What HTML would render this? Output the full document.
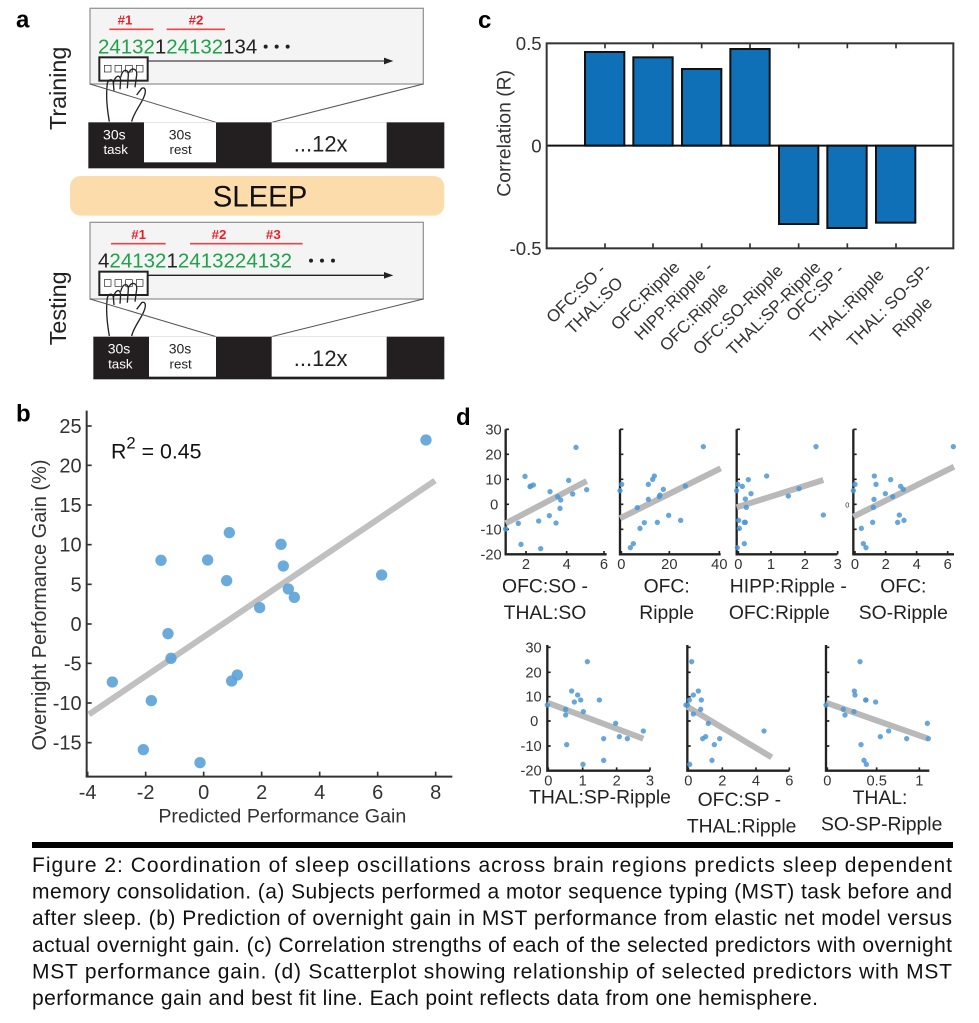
<!DOCTYPE html>
<html><head><meta charset="utf-8"><style>
html,body{margin:0;padding:0;background:#fff;}
svg{display:block;font-family:"Liberation Sans",sans-serif;}
</style></head><body>
<svg width="979" height="1023" viewBox="0 0 979 1023" xmlns="http://www.w3.org/2000/svg">
<rect width="979" height="1023" fill="#fff"/>

<g transform="scale(0.33333)">
  <text x="48" y="82" font-size="72" font-weight="bold">a</text>
  <text transform="translate(198,265) rotate(-90)" text-anchor="middle" font-size="70" fill="#222">Training</text>
  <rect x="270" y="25" width="1000" height="227" fill="#f4f4f4" stroke="#999" stroke-width="4"/>
  <text x="375" y="73" text-anchor="middle" font-size="40" font-weight="bold" fill="#e8202a">#1</text>
  <line x1="328" y1="88" x2="460" y2="88" stroke="#ee4444" stroke-width="5"/>
  <text x="588" y="73" text-anchor="middle" font-size="40" font-weight="bold" fill="#e8202a">#2</text>
  <line x1="500" y1="88" x2="675" y2="88" stroke="#ee4444" stroke-width="5"/>
  <text x="294" y="160" font-size="61" textLength="478" lengthAdjust="spacingAndGlyphs"><tspan fill="#1fa24a">24132</tspan><tspan fill="#222">1</tspan><tspan fill="#1fa24a">24132</tspan><tspan fill="#222">134</tspan></text>
  <circle cx="797" cy="140" r="6" fill="#222"/><circle cx="830" cy="140" r="6" fill="#222"/><circle cx="863" cy="140" r="6" fill="#222"/>
  <line x1="443" y1="183" x2="1160" y2="183" stroke="#444" stroke-width="4"/>
  <polygon points="1180,183 1152,173 1152,193" fill="#222"/>
  <rect x="298" y="172" width="145" height="70" fill="#fff" stroke="#222" stroke-width="6"/>
  <rect x="313" y="196" width="20" height="20" fill="#fff" stroke="#222" stroke-width="2"/>
  <rect x="345" y="196" width="20" height="20" fill="#fff" stroke="#222" stroke-width="2"/>
  <rect x="377" y="196" width="20" height="20" fill="#fff" stroke="#222" stroke-width="2"/>
  <rect x="409" y="196" width="20" height="20" fill="#fff" stroke="#222" stroke-width="2"/>
  <path d="M328,365 C320,320 318,280 322,250 M322,250 C326,236 340,236 340,250 L342,272 M340,252 C345,225 360,222 362,240 L360,268 M362,232 C368,205 385,205 385,225 L382,265 M385,220 C395,200 412,205 410,225 L405,262 M395,365 C400,340 425,310 432,290 C440,270 435,260 425,265 L410,285" fill="none" stroke="#222" stroke-width="4"/>
  <line x1="270" y1="252" x2="648" y2="367" stroke="#555" stroke-width="3"/>
  <line x1="1270" y1="252" x2="815" y2="367" stroke="#555" stroke-width="3"/>
  <rect x="265" y="367" width="1068" height="138" fill="#231f20"/>
  <rect x="432" y="367" width="216" height="120" fill="#fff"/>
  <rect x="815" y="367" width="345" height="120" fill="#fff"/>
  <text x="343" y="418" text-anchor="middle" font-size="42" fill="#fff">30s</text>
  <text x="347" y="462" text-anchor="middle" font-size="40" fill="#fff">task</text>
  <text x="540" y="418" text-anchor="middle" font-size="42" fill="#222">30s</text>
  <text x="542" y="462" text-anchor="middle" font-size="40" fill="#222">rest</text>
  <text x="962" y="455" text-anchor="middle" font-size="66" fill="#222">...12x</text>
  <rect x="210" y="528" width="1123" height="119" rx="32" fill="#fcdcaa"/>
  <text x="780" y="620" text-anchor="middle" font-size="88" fill="#111">SLEEP</text>
  <text transform="translate(198,925) rotate(-90)" text-anchor="middle" font-size="70" fill="#222">Testing</text>
  <rect x="270" y="667" width="1000" height="230" fill="#f4f4f4" stroke="#999" stroke-width="4"/>
  <text x="416" y="717" text-anchor="middle" font-size="40" font-weight="bold" fill="#e8202a">#1</text>
  <line x1="333" y1="731" x2="497" y2="731" stroke="#ee4444" stroke-width="5"/>
  <text x="657" y="717" text-anchor="middle" font-size="40" font-weight="bold" fill="#e8202a">#2</text>
  <text x="820" y="717" text-anchor="middle" font-size="40" font-weight="bold" fill="#e8202a">#3</text>
  <line x1="570" y1="731" x2="908" y2="731" stroke="#ee4444" stroke-width="5"/>
  <text x="294" y="803" font-size="61" textLength="582" lengthAdjust="spacingAndGlyphs"><tspan fill="#222">4</tspan><tspan fill="#1fa24a">24132</tspan><tspan fill="#222">1</tspan><tspan fill="#1fa24a">2413224132</tspan></text>
  <circle cx="933" cy="782" r="6" fill="#222"/><circle cx="966" cy="782" r="6" fill="#222"/><circle cx="999" cy="782" r="6" fill="#222"/>
  <line x1="443" y1="826" x2="1160" y2="826" stroke="#222" stroke-width="4"/>
  <polygon points="1180,826 1152,816 1152,836" fill="#222"/>
  <rect x="298" y="815" width="145" height="70" fill="#fff" stroke="#222" stroke-width="6"/>
  <rect x="313" y="839" width="20" height="20" fill="#fff" stroke="#222" stroke-width="2"/>
  <rect x="345" y="839" width="20" height="20" fill="#fff" stroke="#222" stroke-width="2"/>
  <rect x="377" y="839" width="20" height="20" fill="#fff" stroke="#222" stroke-width="2"/>
  <rect x="409" y="839" width="20" height="20" fill="#fff" stroke="#222" stroke-width="2"/>
  <path d="M328,1008 C320,963 318,923 322,893 M322,893 C326,879 340,879 340,893 L342,915 M340,895 C345,868 360,865 362,883 L360,911 M362,875 C368,848 385,848 385,868 L382,908 M385,863 C395,843 412,848 410,868 L405,905 M395,1008 C400,983 425,953 432,933 C440,913 435,903 425,908 L410,928" fill="none" stroke="#222" stroke-width="4"/>
  <line x1="270" y1="897" x2="648" y2="1010" stroke="#555" stroke-width="3"/>
  <line x1="1270" y1="897" x2="815" y2="1010" stroke="#555" stroke-width="3"/>
  <rect x="280" y="1010" width="1053" height="128" fill="#231f20"/>
  <rect x="447" y="1010" width="201" height="120" fill="#fff"/>
  <rect x="815" y="1010" width="345" height="120" fill="#fff"/>
  <text x="357" y="1060" text-anchor="middle" font-size="42" fill="#fff">30s</text>
  <text x="361" y="1105" text-anchor="middle" font-size="40" fill="#fff">task</text>
  <text x="540" y="1060" text-anchor="middle" font-size="42" fill="#222">30s</text>
  <text x="542" y="1105" text-anchor="middle" font-size="40" fill="#222">rest</text>
  <text x="962" y="1098" text-anchor="middle" font-size="66" fill="#222">...12x</text>
</g>

<text x="478" y="28" font-size="24" font-weight="bold">c</text>
<g transform="translate(470,0) scale(0.33333)">
  <rect x="345" y="156" width="118" height="281" fill="#0f70b7" stroke="#111" stroke-width="6"/>
  <rect x="490" y="172" width="118" height="265" fill="#0f70b7" stroke="#111" stroke-width="6"/>
  <rect x="636" y="207" width="118" height="230" fill="#0f70b7" stroke="#111" stroke-width="6"/>
  <rect x="781" y="147" width="118" height="290" fill="#0f70b7" stroke="#111" stroke-width="6"/>
  <rect x="927" y="437" width="118" height="235" fill="#0f70b7" stroke="#111" stroke-width="6"/>
  <rect x="1072" y="437" width="118" height="247" fill="#0f70b7" stroke="#111" stroke-width="6"/>
  <rect x="1218" y="437" width="118" height="231" fill="#0f70b7" stroke="#111" stroke-width="6"/>
  <line x1="230" y1="437" x2="1450" y2="437" stroke="#111" stroke-width="6"/>
  <rect x="230" y="130" width="1220" height="615" fill="none" stroke="#333" stroke-width="6"/>
  <g stroke="#333" stroke-width="5">
    <line x1="405" y1="745" x2="405" y2="730"/><line x1="549" y1="745" x2="549" y2="730"/><line x1="695" y1="745" x2="695" y2="730"/><line x1="840" y1="745" x2="840" y2="730"/><line x1="986" y1="745" x2="986" y2="730"/><line x1="1132" y1="745" x2="1132" y2="730"/><line x1="1278" y1="745" x2="1278" y2="730"/>
    <line x1="405" y1="130" x2="405" y2="145"/><line x1="549" y1="130" x2="549" y2="145"/><line x1="695" y1="130" x2="695" y2="145"/><line x1="840" y1="130" x2="840" y2="145"/><line x1="986" y1="130" x2="986" y2="145"/><line x1="1132" y1="130" x2="1132" y2="145"/><line x1="1278" y1="130" x2="1278" y2="145"/>
  </g>
  <g font-size="56" fill="#333" text-anchor="end">
    <text x="215" y="150">0.5</text>
    <text x="215" y="457">0</text>
    <text x="215" y="765">-0.5</text>
  </g>
  <text transform="translate(122,400) rotate(-90)" text-anchor="middle" font-size="58" fill="#333">Correlation (R)</text>
  <g font-size="51" fill="#333" text-anchor="end">
    <text transform="translate(410,812) rotate(-45)">OFC:SO -</text>
    <text transform="translate(462,852) rotate(-45)">THAL:SO</text>
    <text transform="translate(632,805) rotate(-45)">OFC:Ripple</text>
    <text transform="translate(732,805) rotate(-45)">HIPP:Ripple -</text>
    <text transform="translate(778,868) rotate(-45)">OFC:Ripple</text>
    <text transform="translate(942,815) rotate(-45)">OFC:SO-Ripple</text>
    <text transform="translate(1055,805) rotate(-45)">THAL:SP-Ripple</text>
    <text transform="translate(1125,812) rotate(-45)">OFC:SP -</text>
    <text transform="translate(1245,828) rotate(-45)">THAL:Ripple</text>
    <text transform="translate(1388,808) rotate(-45)">THAL: SO-SP-</text>
    <text transform="translate(1390,912) rotate(-45)">Ripple</text>
  </g>
</g>

<g transform="translate(0,390) scale(0.33333)">
  <text x="48" y="95" font-size="72" font-weight="bold">b</text>
  <line x1="260" y1="62" x2="260" y2="1160" stroke="#333" stroke-width="6"/>
  <line x1="257" y1="1160" x2="1357" y2="1160" stroke="#333" stroke-width="6"/>
  <g stroke="#333" stroke-width="5">
    <line x1="260" y1="108" x2="275" y2="108"/><line x1="260" y1="226" x2="275" y2="226"/><line x1="260" y1="345" x2="275" y2="345"/><line x1="260" y1="464" x2="275" y2="464"/><line x1="260" y1="583" x2="275" y2="583"/><line x1="260" y1="702" x2="275" y2="702"/><line x1="260" y1="820" x2="275" y2="820"/><line x1="260" y1="939" x2="275" y2="939"/><line x1="260" y1="1058" x2="275" y2="1058"/>
    <line x1="263" y1="1160" x2="263" y2="1145"/><line x1="437" y1="1160" x2="437" y2="1145"/><line x1="611" y1="1160" x2="611" y2="1145"/><line x1="785" y1="1160" x2="785" y2="1145"/><line x1="959" y1="1160" x2="959" y2="1145"/><line x1="1133" y1="1160" x2="1133" y2="1145"/><line x1="1307" y1="1160" x2="1307" y2="1145"/>
  </g>
  <g font-size="60" fill="#333" text-anchor="end">
    <text x="245" y="129">25</text><text x="245" y="247">20</text><text x="245" y="366">15</text><text x="245" y="485">10</text><text x="245" y="604">5</text><text x="245" y="723">0</text><text x="245" y="841">-5</text><text x="245" y="960">-10</text><text x="245" y="1079">-15</text>
  </g>
  <g font-size="60" fill="#333" text-anchor="middle">
    <text x="263" y="1227">-4</text><text x="437" y="1227">-2</text><text x="611" y="1227">0</text><text x="785" y="1227">2</text><text x="959" y="1227">4</text><text x="1133" y="1227">6</text><text x="1307" y="1227">8</text>
  </g>
  <text x="847" y="1297" text-anchor="middle" font-size="59" fill="#333">Predicted Performance Gain</text>
  <text transform="translate(138,645) rotate(-90)" text-anchor="middle" font-size="60" fill="#333">Overnight Performance Gain (%)</text>
  <text x="333" y="205" font-size="64" fill="#111">R<tspan dy="-30" font-size="50">2</tspan><tspan dy="30"> = 0.45</tspan></text>
  <line x1="267" y1="973" x2="1305" y2="272" stroke="#c0c0c0" stroke-width="18"/>
  <g fill="#5aa2d8" fill-opacity="0.9">
    <circle cx="1278" cy="150" r="17"/><circle cx="688" cy="428" r="17"/><circle cx="843" cy="463" r="17"/><circle cx="483" cy="511" r="17"/><circle cx="623" cy="510" r="17"/><circle cx="850" cy="528" r="17"/><circle cx="680" cy="572" r="17"/><circle cx="1145" cy="555" r="17"/><circle cx="865" cy="597" r="17"/><circle cx="883" cy="622" r="17"/><circle cx="779" cy="653" r="17"/><circle cx="504" cy="731" r="17"/><circle cx="513" cy="805" r="17"/><circle cx="337" cy="876" r="17"/><circle cx="712" cy="855" r="17"/><circle cx="695" cy="873" r="17"/><circle cx="454" cy="932" r="17"/><circle cx="430" cy="1079" r="17"/><circle cx="600" cy="1118" r="17"/>
  </g>
</g>

<text x="456" y="425" font-size="24" font-weight="bold">d</text>
<g transform="translate(470,400) scale(0.33333)" fill="#333">
  <g stroke="#222" stroke-width="7" fill="none">
    <path d="M107,88 V463 H410"/><path d="M450,88 V463 H752"/><path d="M800,88 V463 H1102"/><path d="M1150,88 V463 H1452"/>
    <path d="M232,735 V1112 H540"/><path d="M652,735 V1112 H958"/><path d="M1068,735 V1112 H1378"/>
  </g>
  <g stroke="#222" stroke-width="5">
    <path d="M107,88h10M107,163h10M107,238h10M107,313h10M107,388h10M450,88h10M450,163h10M450,238h10M450,313h10M450,388h10M800,88h10M800,163h10M800,238h10M800,313h10M800,388h10M1150,88h10M1150,163h10M1150,238h10M1150,313h10M1150,388h10"/>
    <path d="M168,463v-10M290,463v-10M402,463v-10M454,463v-10M598,463v-10M748,463v-10M805,463v-10M903,463v-10M1005,463v-10M1103,463v-10M1155,463v-10M1247,463v-10M1340,463v-10M1433,463v-10"/>
    <path d="M232,742h10M232,817h10M232,890h10M232,963h10M232,1038h10M652,742h10M652,817h10M652,890h10M652,963h10M652,1038h10M1068,742h10M1068,817h10M1068,890h10M1068,963h10M1068,1038h10"/>
    <path d="M235,1112v-10M338,1112v-10M440,1112v-10M540,1112v-10M655,1112v-10M757,1112v-10M858,1112v-10M958,1112v-10M1072,1112v-10M1220,1112v-10M1348,1112v-10"/>
  </g>
  <g font-size="44" text-anchor="end">
    <text x="95" y="103">30</text><text x="95" y="178">20</text><text x="95" y="253">10</text><text x="85" y="328">0</text><text x="95" y="403">-10</text><text x="95" y="478">-20</text>
    <text x="215" y="757">30</text><text x="215" y="832">20</text><text x="215" y="905">10</text><text x="205" y="978">0</text><text x="215" y="1053">-10</text><text x="215" y="1127">-20</text>
  </g>
  <text x="1132" y="323" font-size="22" text-anchor="middle">0</text>
  <g font-size="44" text-anchor="middle">
    <text x="168" y="507">2</text><text x="290" y="507">4</text><text x="402" y="507">6</text>
    <text x="454" y="507">0</text><text x="598" y="507">20</text><text x="748" y="507">40</text>
    <text x="805" y="507">0</text><text x="903" y="507">1</text><text x="1005" y="507">2</text><text x="1103" y="507">3</text>
    <text x="1155" y="507">0</text><text x="1247" y="507">2</text><text x="1340" y="507">4</text><text x="1433" y="507">6</text>
    <text x="235" y="1156">0</text><text x="338" y="1156">1</text><text x="440" y="1156">2</text><text x="540" y="1156">3</text>
    <text x="655" y="1156">0</text><text x="757" y="1156">2</text><text x="858" y="1156">4</text><text x="958" y="1156">6</text>
    <text x="1072" y="1156">0</text><text x="1220" y="1156">0.5</text><text x="1348" y="1156">1</text>
  </g>
  <g font-size="58" text-anchor="middle" fill="#222">
    <text x="225" y="578">OFC:SO -</text><text x="225" y="657">THAL:SO</text>
    <text x="590" y="578">OFC:</text><text x="590" y="657">Ripple</text>
    <text x="955" y="578">HIPP:Ripple -</text><text x="928" y="657">OFC:Ripple</text>
    <text x="1300" y="578">OFC:</text><text x="1300" y="657">SO-Ripple</text>
    <text x="390" y="1210">THAL:SP-Ripple</text>
    <text x="808" y="1218">OFC:SP -</text><text x="815" y="1297">THAL:Ripple</text>
    <text x="1230" y="1212">THAL:</text><text x="1235" y="1291">SO-SP-Ripple</text>
  </g>
  <g stroke="#b9b9b9" stroke-width="18">
    <line x1="107" y1="370" x2="350" y2="243"/><line x1="450" y1="355" x2="752" y2="205"/><line x1="800" y1="322" x2="1060" y2="240"/><line x1="1150" y1="350" x2="1452" y2="200"/>
    <line x1="232" y1="908" x2="520" y2="1016"/><line x1="652" y1="920" x2="905" y2="1072"/><line x1="1068" y1="908" x2="1375" y2="1016"/>
  </g>
  <g fill="#4b97d3" fill-opacity="0.85">
    <circle cx="318" cy="142" r="8"/><circle cx="165" cy="229" r="8"/><circle cx="182" cy="258" r="8"/><circle cx="190" cy="255" r="8"/><circle cx="180" cy="260" r="8"/><circle cx="296" cy="241" r="8"/><circle cx="240" cy="275" r="8"/><circle cx="350" cy="269" r="8"/><circle cx="308" cy="282" r="8"/><circle cx="263" cy="290" r="8"/><circle cx="272" cy="300" r="8"/><circle cx="270" cy="325" r="8"/><circle cx="238" cy="347" r="8"/><circle cx="206" cy="363" r="8"/><circle cx="258" cy="369" r="8"/><circle cx="145" cy="370" r="8"/><circle cx="107" cy="387" r="8"/><circle cx="153" cy="433" r="8"/><circle cx="212" cy="446" r="8"/>
    <circle cx="700" cy="140" r="8"/><circle cx="553" cy="228" r="8"/><circle cx="548" cy="238" r="8"/><circle cx="535" cy="253" r="8"/><circle cx="455" cy="253" r="8"/><circle cx="450" cy="272" r="8"/><circle cx="580" cy="268" r="8"/><circle cx="570" cy="285" r="8"/><circle cx="568" cy="290" r="8"/><circle cx="535" cy="298" r="8"/><circle cx="502" cy="323" r="8"/><circle cx="596" cy="346" r="8"/><circle cx="632" cy="361" r="8"/><circle cx="562" cy="367" r="8"/><circle cx="523" cy="368" r="8"/><circle cx="510" cy="385" r="8"/><circle cx="490" cy="431" r="8"/><circle cx="481" cy="443" r="8"/><circle cx="646" cy="258" r="8"/>
    <circle cx="1038" cy="140" r="8"/><circle cx="890" cy="228" r="8"/><circle cx="835" cy="239" r="8"/><circle cx="803" cy="253" r="8"/><circle cx="817" cy="259" r="8"/><circle cx="800" cy="272" r="8"/><circle cx="843" cy="281" r="8"/><circle cx="987" cy="266" r="8"/><circle cx="955" cy="288" r="8"/><circle cx="826" cy="297" r="8"/><circle cx="829" cy="322" r="8"/><circle cx="1060" cy="345" r="8"/><circle cx="806" cy="361" r="8"/><circle cx="826" cy="367" r="8"/><circle cx="823" cy="367" r="8"/><circle cx="808" cy="385" r="8"/><circle cx="823" cy="431" r="8"/><circle cx="802" cy="443" r="8"/>
    <circle cx="1450" cy="140" r="8"/><circle cx="1213" cy="228" r="8"/><circle cx="1262" cy="239" r="8"/><circle cx="1218" cy="253" r="8"/><circle cx="1155" cy="253" r="8"/><circle cx="1150" cy="272" r="8"/><circle cx="1292" cy="259" r="8"/><circle cx="1300" cy="268" r="8"/><circle cx="1246" cy="281" r="8"/><circle cx="1268" cy="290" r="8"/><circle cx="1212" cy="298" r="8"/><circle cx="1210" cy="322" r="8"/><circle cx="1288" cy="345" r="8"/><circle cx="1302" cy="361" r="8"/><circle cx="1283" cy="367" r="8"/><circle cx="1208" cy="367" r="8"/><circle cx="1174" cy="385" r="8"/><circle cx="1180" cy="431" r="8"/><circle cx="1188" cy="443" r="8"/>
    <circle cx="352" cy="785" r="8"/><circle cx="305" cy="873" r="8"/><circle cx="323" cy="885" r="8"/><circle cx="313" cy="906" r="8"/><circle cx="332" cy="900" r="8"/><circle cx="388" cy="900" r="8"/><circle cx="232" cy="915" r="8"/><circle cx="287" cy="928" r="8"/><circle cx="340" cy="935" r="8"/><circle cx="287" cy="945" r="8"/><circle cx="437" cy="970" r="8"/><circle cx="448" cy="1010" r="8"/><circle cx="520" cy="993" r="8"/><circle cx="472" cy="1016" r="8"/><circle cx="401" cy="1016" r="8"/><circle cx="290" cy="1034" r="8"/><circle cx="401" cy="1081" r="8"/><circle cx="339" cy="1093" r="8"/>
    <circle cx="665" cy="785" r="8"/><circle cx="685" cy="873" r="8"/><circle cx="670" cy="885" r="8"/><circle cx="694" cy="900" r="8"/><circle cx="658" cy="900" r="8"/><circle cx="652" cy="915" r="8"/><circle cx="648" cy="915" r="8"/><circle cx="692" cy="928" r="8"/><circle cx="670" cy="942" r="8"/><circle cx="715" cy="970" r="8"/><circle cx="882" cy="993" r="8"/><circle cx="707" cy="1010" r="8"/><circle cx="698" cy="1016" r="8"/><circle cx="749" cy="1016" r="8"/><circle cx="733" cy="1034" r="8"/><circle cx="726" cy="1081" r="8"/><circle cx="659" cy="1093" r="8"/>
    <circle cx="1170" cy="785" r="8"/><circle cx="1153" cy="873" r="8"/><circle cx="1155" cy="885" r="8"/><circle cx="1187" cy="900" r="8"/><circle cx="1188" cy="900" r="8"/><circle cx="1217" cy="906" r="8"/><circle cx="1068" cy="915" r="8"/><circle cx="1120" cy="928" r="8"/><circle cx="1152" cy="935" r="8"/><circle cx="1125" cy="945" r="8"/><circle cx="1372" cy="970" r="8"/><circle cx="1256" cy="993" r="8"/><circle cx="1231" cy="1010" r="8"/><circle cx="1310" cy="1016" r="8"/><circle cx="1375" cy="1016" r="8"/><circle cx="1173" cy="1034" r="8"/><circle cx="1182" cy="1081" r="8"/><circle cx="1189" cy="1093" r="8"/>
  </g>
</g>

<rect x="32" y="842" width="921" height="6" fill="#000"/>
<g font-size="21" fill="#111">
  <text x="32" y="872" textLength="920" lengthAdjust="spacing">Figure 2: Coordination of sleep oscillations across brain regions predicts sleep dependent</text>
  <text x="32" y="898.5" textLength="920" lengthAdjust="spacing">memory consolidation. (a) Subjects performed a motor sequence typing (MST) task before and</text>
  <text x="32" y="925" textLength="920" lengthAdjust="spacing">after sleep. (b) Prediction of overnight gain in MST performance from elastic net model versus</text>
  <text x="32" y="952" textLength="920" lengthAdjust="spacing">actual overnight gain. (c) Correlation strengths of each of the selected predictors with overnight</text>
  <text x="32" y="978.5" textLength="920" lengthAdjust="spacing">MST performance gain. (d) Scatterplot showing relationship of selected predictors with MST</text>
  <text x="32" y="1005" textLength="786" lengthAdjust="spacing">performance gain and best fit line. Each point reflects data from one hemisphere.</text>
</g>
</svg>
</body></html>
